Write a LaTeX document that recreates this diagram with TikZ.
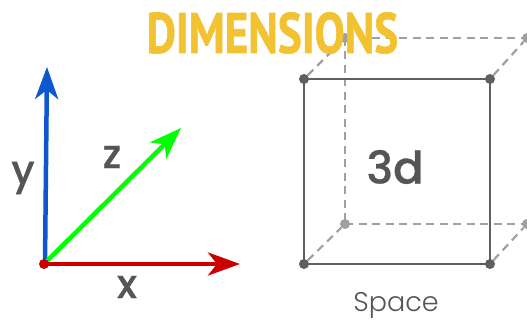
\documentclass[tikz,border=0pt]{standalone}
\usepackage{fontspec}
\setmainfont{Poppins}
\newfontfamily\medfont[FakeBold=0.5]{Poppins Medium}
\newfontfamily\lightfont{Poppins Light}
\newfontfamily\titlefont[FakeBold=1.2]{PT Sans Bold}
\usetikzlibrary{arrows.meta}
\definecolor{txt}{HTML}{555555}
\definecolor{solidc}{HTML}{5F5F5F}
\definecolor{dashc}{HTML}{A0A0A0}
\definecolor{gold}{HTML}{F2C230}
\definecolor{bluec}{HTML}{0E57CF}
\definecolor{redc}{HTML}{CC0000}
\definecolor{greenc}{HTML}{00FF00}
\tikzset{
 axis/.style={line width=4.5pt,-{Stealth[length=32pt,width=23pt,inset=9pt]}},
 frontdot/.style={circle,fill=solidc,inner sep=0pt,minimum size=10pt},
 backdot/.style={circle,fill=dashc,inner sep=0pt,minimum size=10pt},
 front/.style={draw=solidc,line width=2.6pt},
 back/.style={draw=dashc,line width=2.2pt,dash pattern=on 8pt off 5.5pt},
 lab/.style={text=txt,inner sep=0pt,anchor=center},
}
\begin{document}
\begin{tikzpicture}[x=1pt,y=-1pt]
\useasboundingbox (0,0) rectangle (527,320);
\clip (0,0) rectangle (527,320);
% back frame
\node[backdot] (b1) at (345,38) {};
\node[backdot] (b2) at (527,38) {};
\node[backdot] (b3) at (345,224) {};
\node[backdot] (b4) at (527,224) {};
\node[frontdot] (f1) at (304,79) {};
\node[frontdot] (f2) at (490,79) {};
\node[frontdot] (f3) at (304,264) {};
\node[frontdot] (f4) at (490,264) {};
\draw[back] (b1.center) -- (b2.center);
\draw[back] (b1.center) -- (b3.center);
\draw[back] (b3.center) -- (b4.center);
\draw[back] (f1) -- (b1);
\draw[back] (f2) -- (b2);
\draw[back] (f3) -- (b3);
\draw[back] (f4) -- (b4);
\draw[front] (f1.center) -- (f2.center);
\draw[front] (f2.center) -- (f4.center);
\draw[front] (f4.center) -- (f3.center);
\draw[front] (f3.center) -- (f1.center);
% title
\node[text=gold,inner sep=0pt,anchor=center,xscale=0.79] (title) at (272.5,33)
  {\titlefont\fontsize{57}{57}\selectfont DIMENSIONS};
% labels
\node[lab,font=\medfont\fontsize{45}{45}\selectfont] (td) at (395,167) {3d};
\node[lab,anchor=base,font=\lightfont\fontsize{27}{27}\selectfont] (sp) at (396,311.5) {Space};
\node[lab,font=\medfont\fontsize{40}{40}\selectfont] (ly) at (23,178) {y};
\node[lab,font=\medfont\fontsize{40}{40}\selectfont] (lz) at (112,157) {z};
\node[lab,font=\medfont\fontsize{40}{40}\selectfont] (lx) at (127,287) {x};
% axes
\coordinate (xt) at (240,264);
\coordinate (yt) at (47,67);
\coordinate (zt) at (181,128);
\coordinate (o) at (44,264);
\draw[axis,bluec] (45,264) -- (yt);
\draw[axis,greenc] (o) -- (zt);
\draw[axis,redc] (o) -- (xt);
\node[circle,fill=redc,inner sep=0pt,minimum size=10pt] (od) at (o) {};
\end{tikzpicture}
\end{document}
